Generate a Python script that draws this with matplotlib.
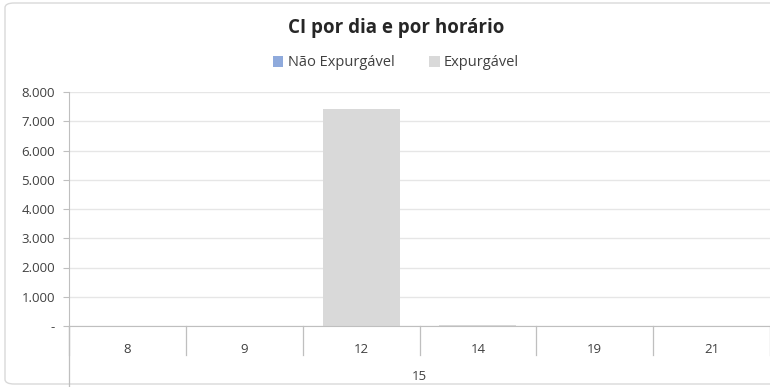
import matplotlib.pyplot as plt
from matplotlib.patches import FancyBboxPatch
import numpy as np

plt.rcParams['font.family'] = ['Open Sans', 'DejaVu Sans']

horas = ['8', '9', '12', '14', '19', '21']
dia = '15'
nao_expurgavel = [0, 0, 0, 0, 0, 0]
expurgavel = [0, 0, 7420, 35, 0, 0]
yticks = [0, 1000, 2000, 3000, 4000, 5000, 6000, 7000, 8000]

def fmt(v):
    if v == 0:
        return '-'
    return f'{v:,.0f}'.replace(',', '.')

fig = plt.figure(figsize=(7.7, 3.87), dpi=100)

# moldura arredondada do grafico
frame = FancyBboxPatch((5/770, 3/387), 780/770, 381/387,
                       boxstyle='round,pad=0,rounding_size=0.012',
                       transform=fig.transFigure, facecolor='white',
                       edgecolor='#d9d9d9', linewidth=1.0, zorder=-5)
fig.patches.append(frame)

ax = fig.add_axes([69/770, 1-326/387, 701/770, (326-92)/387], zorder=2)
ax.set_facecolor('none')

x = np.arange(len(horas))
w = 0.66
ax.bar(x, nao_expurgavel, w, color='#8faadc', label='Não Expurgável', zorder=2)
ax.bar(x, expurgavel, w, bottom=nao_expurgavel, color='#d9d9d9',
       label='Expurgável', zorder=2)

ax.set_xlim(-0.5, len(horas) - 0.5)
ax.set_ylim(0, 8000)
ax.set_yticks(yticks)
ax.set_yticklabels([fmt(v) for v in yticks], fontsize=9.5, color='#404040')
ax.yaxis.grid(True, color='#e6e6e6', linewidth=1.0, zorder=0)
ax.set_axisbelow(True)
ax.tick_params(axis='y', length=4, color='#bfbfbf', pad=6)

ax.set_xticks(x)
ax.set_xticklabels(horas, fontsize=9.5, color='#404040')
ax.tick_params(axis='x', length=0, pad=12)

for s in ['top', 'right']:
    ax.spines[s].set_visible(False)
ax.spines['left'].set_color('#bfbfbf')
ax.spines['bottom'].set_color('#bfbfbf')

# separadores das categorias e do grupo
for b in np.arange(-0.5, len(horas)):
    ax.plot([b, b], [0, -0.125], transform=ax.get_xaxis_transform(),
            color='#bfbfbf', linewidth=0.9, clip_on=False)
ax.plot([-0.5, -0.5], [0, -0.26], transform=ax.get_xaxis_transform(),
        color='#bfbfbf', linewidth=0.9, clip_on=False)
ax.text(0.5, -0.215, dia, transform=ax.transAxes, ha='center', va='center',
        fontsize=9.5, color='#404040')

cx = 396/770
fig.text(cx, 1-28/387, 'CI por dia e por horário', ha='center', va='center',
         fontsize=13.5, fontweight='bold', color='#262626')
fig.legend(loc='center', bbox_to_anchor=(cx, 1-63/387), ncol=2, frameon=False,
           fontsize=10.5, handlelength=0.7, handleheight=0.7, handletextpad=0.3,
           columnspacing=2.4, labelcolor='#404040')

fig.savefig('out.png', dpi=100)
